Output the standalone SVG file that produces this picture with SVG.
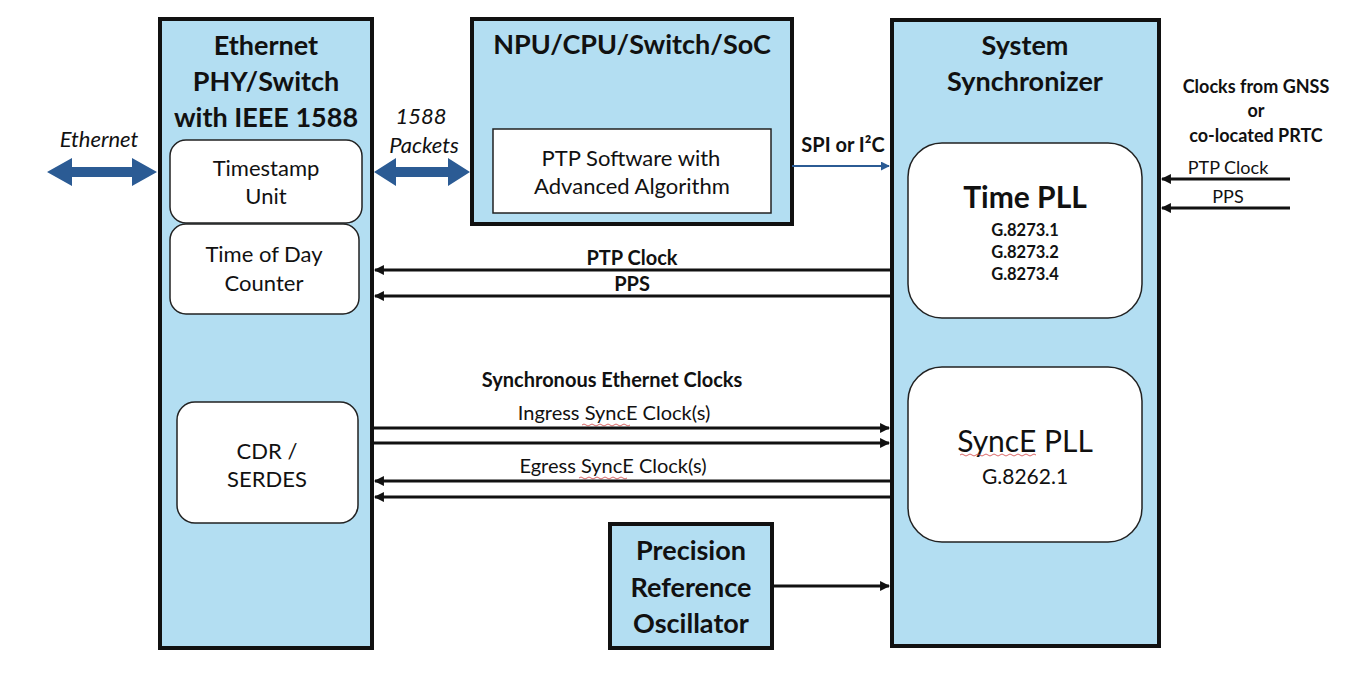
<svg xmlns="http://www.w3.org/2000/svg" width="1367" height="674" viewBox="0 0 1367 674">
<defs>
<style>
.blk{fill:#b3def2;stroke:#111;stroke-width:4}
.in{fill:#fff;stroke:#222;stroke-width:1.5}
text{font-family:Lato,"Open Sans","Liberation Sans",sans-serif;fill:#111;text-anchor:middle}
.t{font-size:27px;font-weight:bold}
.r{font-size:22px}
.b{font-size:20px;font-weight:bold}
.it{font-size:22px;font-style:italic}
.ln{stroke:#111;stroke-width:3;fill:none}
.wave{fill:none;stroke:#d04040;stroke-width:0.8}
</style>
<marker id="ah" viewBox="0 0 10 10" refX="9" refY="5" markerWidth="3.3" markerHeight="3.3" orient="auto" markerUnits="strokeWidth">
<path d="M0,0 L10,5 L0,10 Z" fill="#111"/>
</marker>
<marker id="ahb" viewBox="0 0 10 10" refX="9" refY="5" markerWidth="4.5" markerHeight="4.5" orient="auto" markerUnits="strokeWidth">
<path d="M0,0 L10,5 L0,10 Z" fill="#2b5b94"/>
</marker>
</defs>
<rect width="1367" height="674" fill="#fff"/>

<g id="phy">
<rect class="blk" x="160" y="19" width="212" height="629"/>
<text class="t" x="266" y="55">Ethernet</text>
<text class="t" x="266" y="91">PHY/Switch</text>
<text class="t" x="266" y="127">with IEEE 1588</text>
</g>
<g id="timestamp">
<rect class="in" x="170" y="140" width="192" height="83" rx="16"/>
<text class="r" x="266" y="176">Timestamp</text>
<text class="r" x="266" y="204">Unit</text>
</g>
<g id="tod">
<rect class="in" x="170" y="224" width="189" height="90" rx="16"/>
<text class="r" x="264" y="262">Time of Day</text>
<text class="r" x="264" y="291">Counter</text>
</g>
<g id="cdr">
<rect class="in" x="177" y="402" width="181" height="121" rx="18"/>
<text class="r" x="267" y="459">CDR /</text>
<text class="r" x="267" y="487">SERDES</text>
</g>

<g id="npu">
<rect class="blk" x="472" y="19" width="320" height="205"/>
<text class="t" x="632" y="54">NPU/CPU/Switch/SoC</text>
</g>
<g id="ptpsw">
<rect class="in" x="493" y="129" width="278" height="84"/>
<text class="r" x="631" y="166">PTP Software with</text>
<text class="r" x="632" y="194">Advanced Algorithm</text>
</g>

<g id="sync">
<rect class="blk" x="892" y="20" width="267" height="626"/>
<text class="t" x="1025" y="55">System</text>
<text class="t" x="1025" y="91">Synchronizer</text>
</g>
<g id="timepll">
<rect class="in" x="908" y="143" width="234" height="175" rx="34"/>
<text x="1025" y="208" style="font-size:30px;font-weight:bold">Time PLL</text>
<text x="1025" y="236" style="font-size:16.5px;font-weight:bold">G.8273.1</text>
<text x="1025" y="258" style="font-size:16.5px;font-weight:bold">G.8273.2</text>
<text x="1025" y="280" style="font-size:16.5px;font-weight:bold">G.8273.4</text>
</g>
<g id="syncepll">
<rect class="in" x="908" y="367" width="234" height="175" rx="34"/>
<text x="1025" y="452" style="font-size:30px">SyncE PLL</text>
<path class="wave" d="M960,455 q2,-2 4,0 t4,0 t4,0 t4,0 t4,0 t4,0 t4,0 t4,0 t4,0 t4,0 t4,0 t4,0 t4,0 t4,0 t4,0 t4,0 t4,0 t4,0 t4,0"/>
<text x="1025" y="484" style="font-size:21px">G.8262.1</text>
</g>

<g id="osc">
<rect class="blk" x="610" y="524" width="162" height="124"/>
<text class="t" x="691" y="560">Precision</text>
<text class="t" x="691" y="597">Reference</text>
<text class="t" x="691" y="633">Oscillator</text>
</g>

<g id="labels">
<text class="it" x="99" y="147">Ethernet</text>
<text class="it" x="421" y="124">1588</text>
<text class="it" x="424" y="153">Packets</text>
<text class="b" x="843" y="152">SPI or I²C</text>
<text class="b" x="1256" y="93" style="font-size:18px">Clocks from GNSS</text>
<text class="b" x="1256" y="117" style="font-size:18px">or</text>
<text class="b" x="1256" y="142" style="font-size:18px">co-located PRTC</text>
<text x="1228" y="174" style="font-size:18px">PTP Clock</text>
<text x="1228" y="203" style="font-size:18px">PPS</text>
<text class="b" x="632" y="265">PTP Clock</text>
<text class="b" x="632" y="291">PPS</text>
<text class="b" x="612" y="387">Synchronous Ethernet Clocks</text>
<text x="614" y="420" style="font-size:20px">Ingress SyncE Clock(s)</text>
<path class="wave" d="M582,425 q2,-2 4,0 t4,0 t4,0 t4,0 t4,0 t4,0 t4,0 t4,0 t4,0 t4,0 t4,0 t4,0"/>
<text x="613" y="473" style="font-size:20px">Egress SyncE Clock(s)</text>
<path class="wave" d="M579,478 q2,-2 4,0 t4,0 t4,0 t4,0 t4,0 t4,0 t4,0 t4,0 t4,0 t4,0 t4,0 t4,0"/>
</g>

<g id="connectors">
<path d="M47,172 L72,158 L72,167 L132,167 L132,158 L157,172 L132,186 L132,177 L72,177 L72,186 Z" fill="#2b5b94"/>
<path d="M374,172 L396,158 L396,167 L448,167 L448,158 L470,172 L448,186 L448,177 L396,177 L396,186 Z" fill="#2b5b94"/>
<line x1="792" y1="166" x2="889" y2="166" stroke="#2b5b94" stroke-width="2" marker-end="url(#ahb)"/>
<line class="ln" x1="1290" y1="179" x2="1162" y2="179" marker-end="url(#ah)"/>
<line class="ln" x1="1290" y1="208" x2="1162" y2="208" marker-end="url(#ah)"/>
<line class="ln" x1="890" y1="270" x2="375" y2="270" marker-end="url(#ah)"/>
<line class="ln" x1="890" y1="296" x2="375" y2="296" marker-end="url(#ah)"/>
<line class="ln" x1="374" y1="428" x2="889" y2="428" marker-end="url(#ah)"/>
<line class="ln" x1="374" y1="443" x2="889" y2="443" marker-end="url(#ah)"/>
<line class="ln" x1="890" y1="481" x2="375" y2="481" marker-end="url(#ah)"/>
<line class="ln" x1="890" y1="497" x2="375" y2="497" marker-end="url(#ah)"/>
<line class="ln" x1="774" y1="586" x2="889" y2="586" marker-end="url(#ah)"/>
</g>
</svg>
